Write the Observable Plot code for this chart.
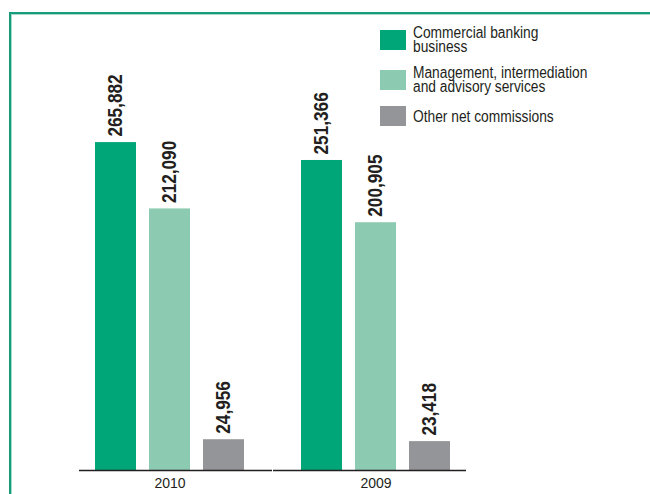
<!DOCTYPE html>
<html>
<head>
<meta charset="utf-8">
<script src="https://cdn.jsdelivr.net/npm/d3@7"></script>
<script src="https://cdn.jsdelivr.net/npm/@observablehq/plot@0.6"></script>
<style>
  html, body { margin: 0; padding: 0; background: #fff; }
  #wrap { position: relative; width: 650px; height: 494px; overflow: hidden; }
  #border { position: absolute; left: 9px; top: 12px; width: 800px; height: 700px;
    border-top: 2px solid #169c7b; border-left: 2px solid #169c7b;
    box-shadow: inset 1px 1px 0 #a6dac8; }
  #chart { position: absolute; left: 0; top: 0; }
  #legend { position: absolute; left: 380px; top: 26px; display: flex; flex-direction: column; gap: 13px;
    font-family: "Liberation Sans", Arial, sans-serif;
    font-size: 16px; line-height: 13.6px; color: #231f20; }
  .item { display: flex; align-items: center; }
  .sw { width: 26px; height: 20px; margin-right: 7px; flex: none; }
  .lab { white-space: pre; transform: scaleX(0.86); transform-origin: 0 50%; }
</style>
</head>
<body>
<div id="wrap">
  <div id="border"></div>
  <div id="chart"></div>
  <div id="legend"></div>
</div>
<script>
const years = ["2010", "2009"];
const categories = ["Commercial banking business", "Management, intermediation and advisory services", "Other net commissions"];
const legendLabels = ["Commercial banking\nbusiness", "Management, intermediation\nand advisory services", "Other net commissions"];
const colors = ["#00a678", "#8ccab1", "#939598"];
const values2010 = [265882, 212090, 24956];
const values2009 = [251366, 200905, 23418];

const data = [];
categories.forEach((c, i) => {
  data.push({year: "2010", category: c, value: values2010[i]});
  data.push({year: "2009", category: c, value: values2009[i]});
});

const fmt = d3.format(",");
const font = '"Liberation Sans", Arial, sans-serif';
const axisRule = (yr, left, right) => Plot.ruleY([yr], {
  fx: d => d, y: () => 0, x1: () => categories[0], x2: () => categories[categories.length - 1],
  insetLeft: left, insetRight: right, stroke: "#231f20", strokeWidth: 1.5
});

const chart = Plot.plot({
  width: 650,
  height: 494,
  marginLeft: 77,
  marginRight: 183,
  marginTop: 100,
  marginBottom: 24,
  style: {fontFamily: font, color: "#231f20", background: "transparent"},
  fx: {domain: years, paddingInner: 0.2, paddingOuter: 0.044},
  x: {domain: categories, paddingInner: 0.236, paddingOuter: 0.124, axis: null},
  y: {domain: [0, 300000], axis: null},
  color: {domain: categories, range: colors},
  marks: [
    Plot.barY(data, {fx: "year", x: "category", y: "value", fill: "category"}),
    Plot.text(data, {fx: "year", x: "category", y: "value", text: d => fmt(d.value),
      rotate: -90, textAnchor: "start", lineAnchor: "middle", dy: -6,
      fontSize: 20, fontWeight: "bold", fill: "#231f20"}),
    axisRule(years[0], -16, -28),
    axisRule(years[1], -28, -16),
    Plot.axisFx({anchor: "bottom", tickSize: 0, tickPadding: 8, fontSize: 14, label: null, fill: "#231f20"})
  ]
});
document.getElementById("chart").appendChild(chart);

// condensed look for the value labels (font has no condensed face)
d3.select(chart).selectAll('g[aria-label="text"] text').each(function() {
  const len = this.getComputedTextLength();
  d3.select(this).attr("textLength", len * 0.86).attr("lengthAdjust", "spacingAndGlyphs");
});

const legend = document.getElementById("legend");
categories.forEach((c, i) => {
  const item = document.createElement("div");
  item.className = "item";
  const sw = document.createElement("div");
  sw.className = "sw";
  sw.style.background = colors[i];
  const lab = document.createElement("div");
  lab.className = "lab";
  lab.textContent = legendLabels[i];
  item.appendChild(sw);
  item.appendChild(lab);
  legend.appendChild(item);
});
</script>
</body>
</html>
